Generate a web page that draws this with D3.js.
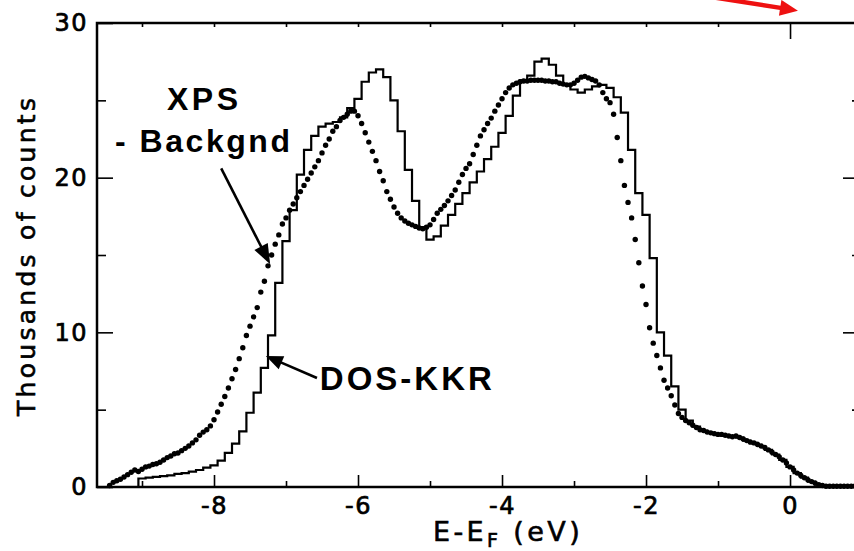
<!DOCTYPE html>
<html><head><meta charset="utf-8">
<script src="https://cdn.jsdelivr.net/npm/d3@7"></script>
<style>body{margin:0;background:#fff;} svg{display:block}</style>
</head><body>
<svg id="c" width="854" height="551"></svg>
<script>
// ---- data (energies in eV relative to E_F, counts in thousands) ----
const xpsStart = -9.45, xpsStep = 0.05;
const xpsCounts = [
  0.1,0.3,0.4,0.5,0.65,0.8,0.95,1.1,1.0,1.15,
  1.3,1.35,1.45,1.5,1.6,1.75,1.9,2.0,2.15,2.2,2.35,2.5,2.65,2.85,3.05,3.35,3.55,3.7,3.95,4.35,
  4.85,5.35,5.85,6.4,7.0,7.6,8.3,9.0,9.8,10.4,11.0,11.6,12.6,13.3,14.3,15.0,15.7,16.3,17.0,17.4,
  17.9,18.3,18.7,19.1,19.5,19.9,20.3,20.7,21.1,21.6,22.1,22.5,23.0,23.3,23.7,23.9,24.1,24.3,24.3,24.0,
  23.5,22.9,22.3,21.7,21.1,20.4,19.8,19.1,18.6,18.1,17.7,17.4,17.2,17.05,16.95,16.85,16.75,16.7,16.8,16.95,
  17.3,17.7,17.95,18.2,18.5,18.85,19.2,19.7,20.2,20.6,20.9,21.5,22.1,22.7,23.1,23.5,23.85,24.3,24.7,25.1,
  25.5,25.8,26.0,26.1,26.2,26.25,26.25,26.3,26.3,26.3,26.3,26.25,26.25,26.2,26.2,26.1,26.05,26.0,26.0,26.1,
  26.3,26.5,26.55,26.45,26.35,26.25,26.0,25.5,25.1,24.85,24.1,22.6,21.1,19.5,18.4,17.4,16.0,14.5,13.0,11.8,
  10.3,9.3,8.5,7.7,6.9,6.4,5.9,5.3,4.75,4.5,4.3,4.15,4.0,3.85,3.7,3.65,3.55,3.5,3.45,3.4,
  3.4,3.35,3.3,3.25,3.3,3.2,3.1,3.0,2.9,2.85,2.75,2.65,2.55,2.4,2.25,2.1,1.95,1.75,1.55,1.3,
  1.1,0.9,0.75,0.6,0.45,0.35,0.25,0.15,0.1,0.05,0.05,0.05,0.05,0.05,0.05,0.05,0.05,0.05
];
const dosStart = -9.1, dosStep = 0.1;
const dosCounts = [
  0,0.55,
  0.6,0.65,0.7,0.75,0.85,0.9,1.0,1.1,1.25,1.4,
  1.7,2.2,2.8,3.6,4.8,6.1,7.7,9.8,13.2,15.9,
  17.9,20.2,21.8,22.7,23.3,23.5,23.6,23.9,24.5,25.1,
  26.2,26.8,27.0,26.5,25.0,23.0,20.5,18.5,16.8,16.0,
  16.2,16.9,17.6,18.3,19.0,19.7,20.4,21.2,22.0,22.9,
  24.0,25.3,26.3,26.6,27.5,27.7,27.3,26.6,26.0,25.7,
  25.5,25.7,25.9,26.0,25.8,25.2,24.2,21.8,19.0,17.6,
  14.8,10.0,8.5,6.5,5.0,4.3,3.9,3.65,3.5,3.4,
  3.35,3.25,3.2,3.0,2.85,2.65,2.4,2.1,1.75,1.3,
  0.9,0.6,0.35,0.15,0.05,0.05,0.05,0.05,0.05
];
const xMajorTicks = [-8,-6,-4,-2,0];
const xTickLabels = ["-8","-6","-4","-2","0"];
const xMinorTicks = [-9,-7,-5,-3,-1];
const xTopTicks = [-9,-8,-7,-6,-5,-4,-3,-2,-1];
const yMajorTicks = [0,10,20,30];
const yTickLabels = ["0","10","20","30"];
const yMinorTicks = [5,15,25];
const xDomain = [-9.625, 0.944];
const yDomain = [0, 30];

// annotations in data coordinates
const notes = [
  {text:"XPS", e:-8.16, v:24.37, anchor:"middle", len:71, size:32},
  {text:"- Backgnd", e:-8.16, v:21.65, anchor:"middle", len:175, size:32},
  {text:"DOS-KKR", e:-6.53, v:6.27, anchor:"start", len:172, size:33}
];
const arrows = [
  {e1:-7.90, v1:20.6, e2:-7.22, v2:14.4, color:"#000", w:2.6, hl:20, hw:15},
  {e1:-6.57, v1:7.05, e2:-7.28, v2:8.47, color:"#000", w:2.6, hl:17, hw:14},
  {e1:-1.26, v1:31.8, e2:0.11, v2:30.8, color:"#ee1111", w:4.5, hl:18, hw:16}
];

// ---- build series ----
const xps = xpsCounts.map((v,i)=>({e:+(xpsStart+i*xpsStep).toFixed(3), v}));
const dos = dosCounts.map((v,i)=>({e:+(dosStart+i*dosStep).toFixed(3), v}));

const svg = d3.select("#c");
const x = d3.scaleLinear().domain(xDomain).range([97, 858]);
const y = d3.scaleLinear().domain(yDomain).range([487, 23]);

const font = "'DejaVu Sans', sans-serif";

// frame
svg.append("rect").attr("fill","none").attr("stroke","#000").attr("stroke-width",2.5)
  .attr("x",x(xDomain[0])).attr("y",y(yDomain[1]))
  .attr("width",x(xDomain[1])-x(xDomain[0])).attr("height",y(yDomain[0])-y(yDomain[1]));

function styleAxis(g){
  g.select(".domain").remove();
  g.selectAll(".tick line").attr("stroke","#000").attr("stroke-width",1.6);
  g.selectAll(".tick text").attr("fill","#000").attr("font-family",font)
    .attr("font-size",24).attr("letter-spacing",1.5)
    .attr("stroke","#000").attr("stroke-width",0.7);
}

// bottom axis
svg.append("g").attr("transform",`translate(0,${y(0)})`)
  .call(d3.axisBottom(x).tickValues(xMajorTicks).tickFormat((d,i)=>xTickLabels[i])
    .tickSize(-12).tickSizeOuter(0).tickPadding(10))
  .call(styleAxis);
svg.append("g").attr("transform",`translate(0,${y(0)})`)
  .call(d3.axisBottom(x).tickValues(xMinorTicks).tickFormat("").tickSize(-6).tickSizeOuter(0))
  .call(styleAxis);
// top axis
svg.append("g").attr("transform",`translate(0,${y(30)})`)
  .call(d3.axisTop(x).tickValues(xTopTicks).tickFormat("").tickSize(-4).tickSizeOuter(0))
  .call(styleAxis);
svg.append("g").attr("transform",`translate(0,${y(30)})`)
  .call(d3.axisTop(x).tickValues([0]).tickFormat("").tickSize(-16).tickSizeOuter(0))
  .call(styleAxis);
// left axis
svg.append("g").attr("transform",`translate(${x(xDomain[0])},0)`)
  .call(d3.axisLeft(y).tickValues(yMajorTicks).tickFormat((d,i)=>yTickLabels[i])
    .tickSize(-16).tickSizeOuter(0).tickPadding(9))
  .call(styleAxis);
svg.append("g").attr("transform",`translate(${x(xDomain[0])},0)`)
  .call(d3.axisLeft(y).tickValues(yMinorTicks).tickFormat("").tickSize(-9).tickSizeOuter(0))
  .call(styleAxis);
// right axis
svg.append("g").attr("transform",`translate(${x(xDomain[1])},0)`)
  .call(d3.axisRight(y).tickValues([10,20]).tickFormat("").tickSize(-15).tickSizeOuter(0))
  .call(styleAxis);
svg.append("g").attr("transform",`translate(${x(xDomain[1])},0)`)
  .call(d3.axisRight(y).tickValues(yMinorTicks).tickFormat("").tickSize(-6).tickSizeOuter(0))
  .call(styleAxis);

// DOS-KKR step line
svg.append("path").datum(dos)
  .attr("fill","none").attr("stroke","#000").attr("stroke-width",2.2)
  .attr("stroke-linejoin","miter")
  .attr("d", d3.line().x(d=>x(d.e)).y(d=>y(d.v)).curve(d3.curveStep));

// XPS - background dots
svg.append("g").selectAll("circle").data(xps).join("circle")
  .attr("cx",d=>x(d.e)).attr("cy",d=>y(d.v)).attr("r",2.7).attr("fill","#000");

// axis titles
svg.append("text")
  .attr("transform",`translate(35,${(y(0)+y(30))/2 + 2}) rotate(-90)`)
  .attr("text-anchor","middle").attr("font-family",font).attr("font-size",25)
  .attr("textLength",318).attr("lengthAdjust","spacing")
  .attr("stroke","#000").attr("stroke-width",0.6)
  .attr("fill","#000").text("Thousands of counts");

const xt = svg.append("text")
  .attr("x",(x(-4)+x(-3))/2 - 30).attr("y",541)
  .attr("text-anchor","middle").attr("font-family",font).attr("font-size",27)
  .attr("letter-spacing",3.4).attr("fill","#000")
  .attr("stroke","#000").attr("stroke-width",0.6);
xt.append("tspan").text("E-E");
xt.append("tspan").attr("dy",6).attr("font-size",19).text("F");
xt.append("tspan").attr("dy",-6).text(" (eV)");

// annotations
svg.append("g").selectAll("text").data(notes).join("text")
  .attr("x",d=>x(d.e)).attr("y",d=>y(d.v))
  .attr("text-anchor",d=>d.anchor)
  .attr("font-family","'Liberation Sans', Arial, sans-serif").attr("font-weight","bold")
  .attr("font-size",d=>d.size).attr("textLength",d=>d.len).attr("lengthAdjust","spacing")
  .attr("fill","#000").text(d=>d.text);

arrows.forEach(a=>{
  const x1=x(a.e1), y1=y(a.v1), x2=x(a.e2), y2=y(a.v2);
  const dx=x2-x1, dy=y2-y1, L=Math.hypot(dx,dy), ux=dx/L, uy=dy/L;
  const bx=x2-ux*a.hl, by=y2-uy*a.hl, px=-uy, py=ux;
  svg.append("line").attr("x1",x1).attr("y1",y1).attr("x2",bx+ux*2).attr("y2",by+uy*2)
    .attr("stroke",a.color).attr("stroke-width",a.w);
  svg.append("path")
    .attr("d",`M${x2},${y2}L${bx+px*a.hw/2},${by+py*a.hw/2}L${bx-px*a.hw/2},${by-py*a.hw/2}Z`)
    .attr("fill",a.color);
});
</script>
</body></html>
